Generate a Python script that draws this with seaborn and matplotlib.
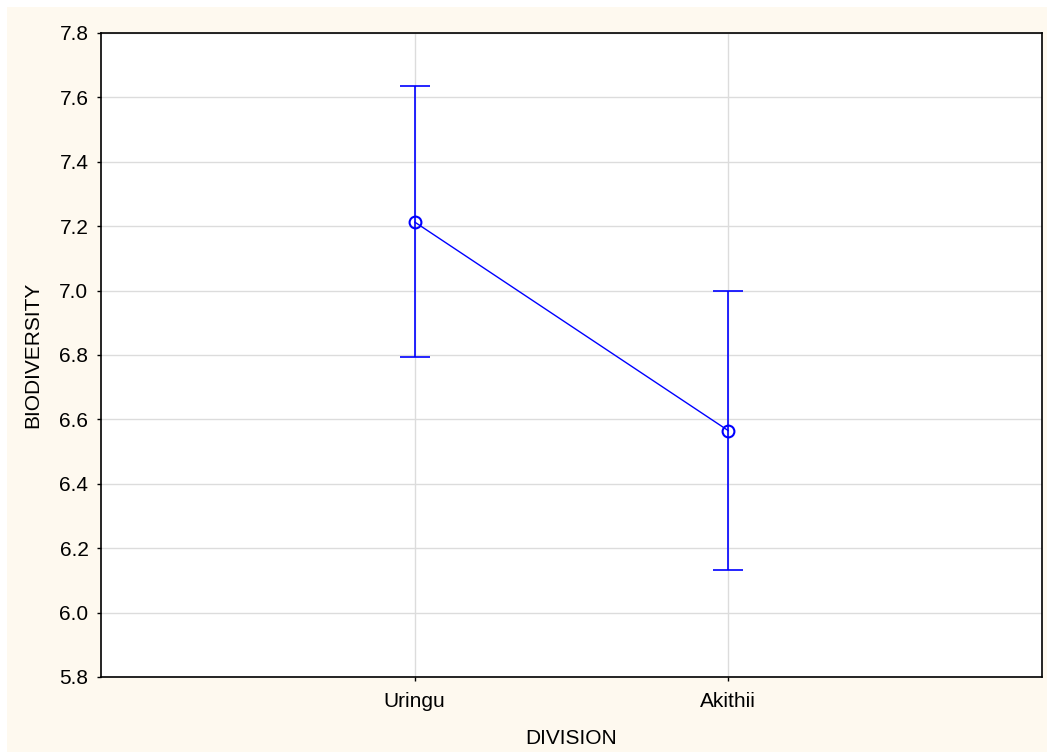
import matplotlib
matplotlib.use("Agg")
import matplotlib.pyplot as plt
import seaborn as sns
import pandas as pd
from matplotlib.patches import Rectangle

categories = ["Uringu", "Akithii"]
means = [7.213, 6.565]
upper = [7.634, 7.000]
lower = [6.793, 6.131]
yticks = [5.8, 6.0, 6.2, 6.4, 6.6, 6.8, 7.0, 7.2, 7.4, 7.6, 7.8]

sns.set_theme(style="white")
plt.rcParams['font.family'] = ['Liberation Sans', 'DejaVu Sans']
plt.rcParams['text.color'] = 'black'
plt.rcParams['axes.labelcolor'] = 'black'
plt.rcParams['xtick.color'] = 'black'
plt.rcParams['ytick.color'] = 'black'

fig = plt.figure(figsize=(10.47, 7.52), dpi=100)
fig.patch.set_facecolor("white")
fig.add_artist(Rectangle((7/1047, 0), 1 - 7/1047, 1 - 7/752, transform=fig.transFigure,
                         facecolor="#FEF9EF", edgecolor="none", zorder=-10))
ax = fig.add_axes([101/1047, 1 - 677/752, (1042 - 101)/1047, (677 - 33)/752])
ax.set_facecolor("white")

df = pd.DataFrame({"DIVISION": categories, "BIODIVERSITY": means})
blue = "#0000FF"
yerr = [[m - l for m, l in zip(means, lower)], [u - m for u, m in zip(upper, means)]]
ax.errorbar(categories, means, yerr=yerr, fmt="none", ecolor=blue, elinewidth=1.2,
            capsize=11, capthick=1.2, zorder=4)
sns.lineplot(data=df, x="DIVISION", y="BIODIVERSITY", ax=ax, color=blue, lw=1,
             marker="o", markersize=8.5, markerfacecolor="none", markeredgecolor=blue,
             markeredgewidth=1.5, zorder=5)

ax.set_xlim(-1, 2)
ax.set_ylim(5.8, 7.8)
ax.set_yticks(yticks)
ax.set_yticklabels([f"{v:.1f}" for v in yticks])
ax.grid(True, color="#DCDCDC", lw=1)
ax.set_axisbelow(True)
for s in ax.spines.values():
    s.set_color("black")
    s.set_linewidth(1.2)
ax.tick_params(axis="y", which="both", left=True, length=3, width=1, color="black",
               labelsize=15, pad=6, labelcolor="black")
ax.tick_params(axis="x", bottom=True, length=3, width=1, color="black", labelsize=15,
               pad=8, labelcolor="black")
ax.set_xlabel("DIVISION", fontsize=15, labelpad=13, color="black")
ax.set_ylabel("BIODIVERSITY", fontsize=15, labelpad=12, color="black")

fig.savefig("out.png", dpi=100, facecolor=fig.get_facecolor())
